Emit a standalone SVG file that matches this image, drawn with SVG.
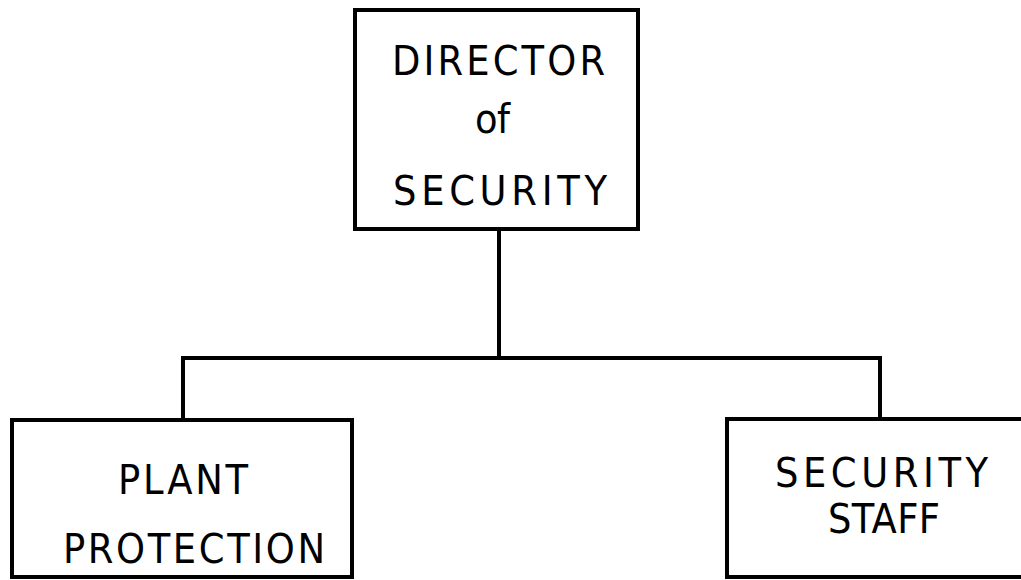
<svg xmlns="http://www.w3.org/2000/svg" width="1021" height="580" viewBox="0 0 1021 580">
<style>
.box{fill:#fff;stroke:#000;stroke-width:4}
.con{fill:none;stroke:#000;stroke-width:4;stroke-linejoin:miter}
.t{font-family:"DejaVu Sans Condensed","DejaVu Sans","Liberation Sans",sans-serif;font-stretch:condensed;font-size:41px;fill:#000;text-anchor:middle}
</style>
<rect width="1021" height="580" fill="#fff"/>
<g id="connectors">
<path class="con" d="M499 229 V358"/>
<path class="con" d="M183 420 V358 H880 V419"/>
</g>
<g id="director">
<rect class="box" x="355" y="10" width="283" height="219"/>
<text class="t" x="498.5" y="75" textLength="213" lengthAdjust="spacing">DIRECTOR</text>
<text class="t" x="492.5" y="133" textLength="35" lengthAdjust="spacing">of</text>
<text class="t" x="500" y="205" textLength="214" lengthAdjust="spacing">SECURITY</text>
</g>
<g id="plant">
<rect class="box" x="12" y="420" width="340" height="157"/>
<text class="t" x="183" y="494" textLength="130" lengthAdjust="spacing">PLANT</text>
<text class="t" x="194" y="563" textLength="262" lengthAdjust="spacing">PROTECTION</text>
</g>
<g id="staff">
<rect class="box" x="727" y="419" width="310" height="158"/>
<text class="t" x="881.5" y="487" textLength="213" lengthAdjust="spacing">SECURITY</text>
<text class="t" x="884" y="533" textLength="112" lengthAdjust="spacing">STAFF</text>
</g>
</svg>
